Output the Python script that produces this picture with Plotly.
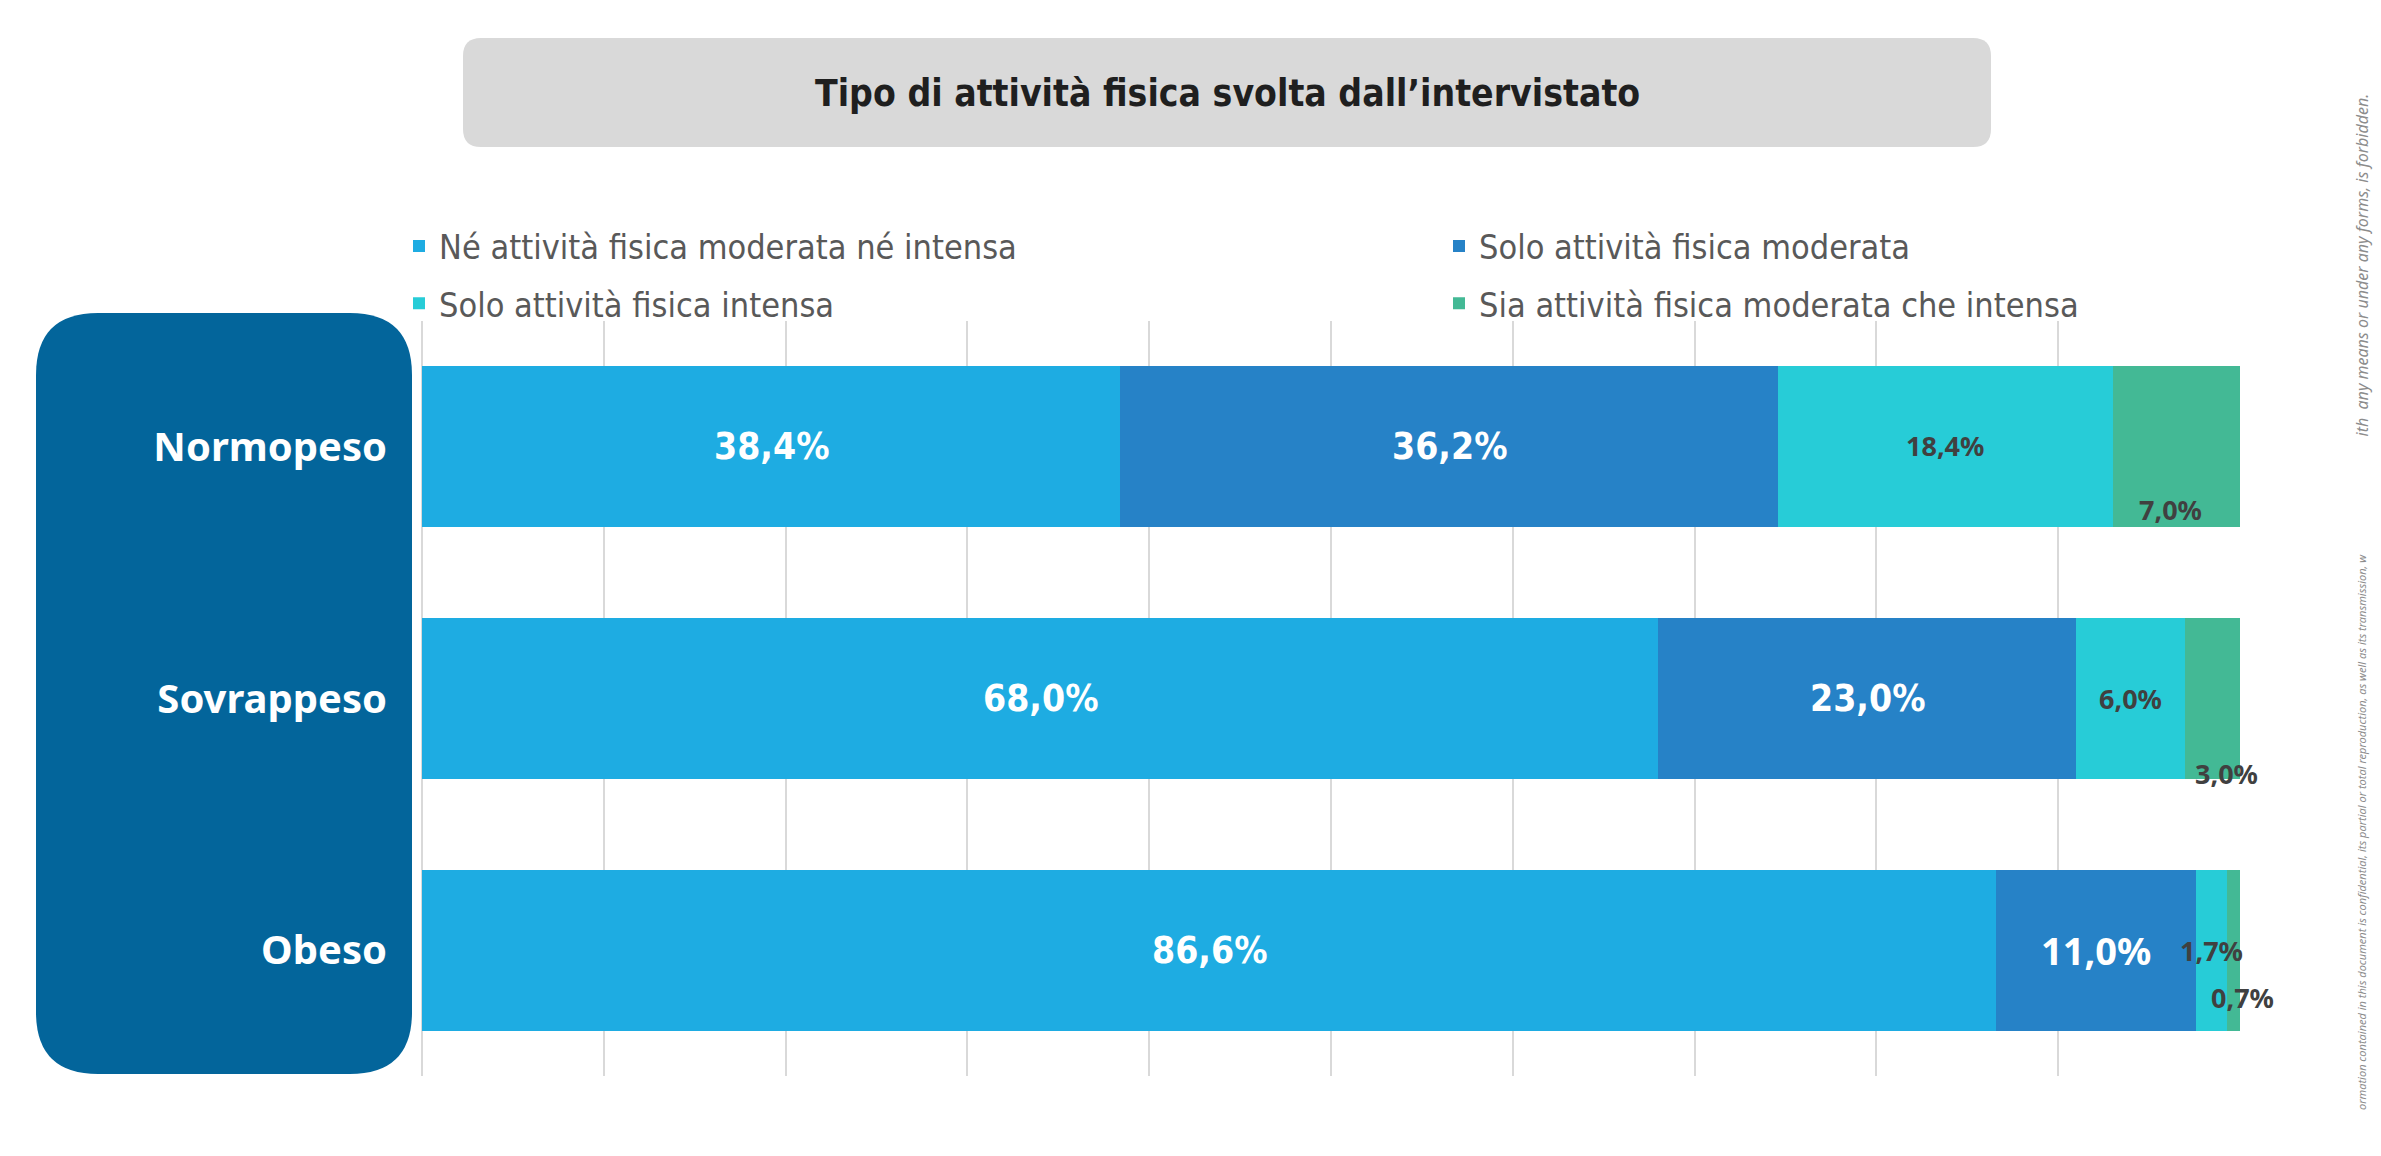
import plotly.graph_objects as go

# ---------------- data ----------------
categories = ["Normopeso", "Sovrappeso", "Obeso"]
series_names = [
    "Né attività fisica moderata né intensa",
    "Solo attività fisica moderata",
    "Solo attività fisica intensa",
    "Sia attività fisica moderata che intensa",
]
neither = [38.4, 68.0, 86.6]
moderate_only = [36.2, 23.0, 11.0]
intense_only = [18.4, 6.0, 1.7]
both = [7.0, 3.0, 0.7]
x_ticks = [0, 10, 20, 30, 40, 50, 60, 70, 80, 90, 100]
title_text = "Tipo di attività fisica svolta dall\u2019intervistato"
watermark_top = "ith\u00a0\u00a0any means or under any forms, is forbidden."
watermark_bottom = ("ormation contained in this document is confidential, its partial or total reproduction, "
                    "as well as its transmission, w")

# ---------------- style ----------------
colors = ["#1EACE2", "#2682C7", "#27CCD7", "#43B995"]
FW, FH = 2381, 1156
L, R, T, B = 422, 141, 321, 80
PW, PH = FW - L - R, FH - T - B

NARROW = "Liberation Sans Narrow, DejaVu Sans Condensed, Arial Narrow, sans-serif"
WIDE = "Noto Sans, DejaVu Sans, sans-serif"


def px(xp):
    return (xp - L) / PW


def py(yp):
    return 1 - (yp - T) / PH


def rounded_path(x0, y0, x1, y1, r):
    p = lambda a, b: f"{px(a):.5f},{py(b):.5f}"
    s = f"M{p(x0 + r, y0)} L{p(x1 - r, y0)} Q{p(x1, y0)} {p(x1, y0 + r)} "
    s += f"L{p(x1, y1 - r)} Q{p(x1, y1)} {p(x1 - r, y1)} "
    s += f"L{p(x0 + r, y1)} Q{p(x0, y1)} {p(x0, y1 - r)} "
    s += f"L{p(x0, y0 + r)} Q{p(x0, y0)} {p(x0 + r, y0)} Z"
    return s


series = [neither, moderate_only, intense_only, both]
legend_for = ["legend", "legend2", "legend", "legend2"]

fig = go.Figure()
for i, (name, vals) in enumerate(zip(series_names, series)):
    fig.add_trace(go.Bar(
        y=categories, x=vals, name=name, orientation="h",
        marker=dict(color=colors[i], line=dict(width=0)),
        legend=legend_for[i], legendgroup=f"g{i}",
        hoverinfo="skip",
    ))

# data labels
offsets = {(3, 0): (-6, -63), (3, 1): (14, -75), (3, 2): (9, -47), (2, 0): (0, 1)}
annotations = []
for ci, cat in enumerate(categories):
    cum = 0.0
    for si, vals in enumerate(series):
        v = vals[ci]
        center = cum + v / 2
        cum += v
        label = f"{v:.1f}".replace(".", ",") + "%"
        if si in (0, 1):
            if si == 1 and ci == 2:
                font = dict(family=WIDE, size=38, color="white", weight="bold")
            else:
                font = dict(family=NARROW, size=37, color="white", weight="bold")
        else:
            font = dict(family=WIDE, size=27, color="#404040", weight="bold")
        dx, dy = offsets.get((si, ci), (0, 0))
        annotations.append(dict(
            x=center, y=cat, xref="x", yref="y", text=label, showarrow=False,
            font=font, xshift=dx, yshift=dy, xanchor="center", yanchor="middle",
        ))

# title
annotations.append(dict(
    x=px(1227), y=py(94), xref="paper", yref="paper", text=title_text, showarrow=False,
    font=dict(family=NARROW, size=37, color="#1F1F1F", weight="bold"),
    xanchor="center", yanchor="middle",
))
# watermark (two pieces, as in the reference)
annotations.append(dict(
    x=px(2361), y=py(92), xref="paper", yref="paper", text=watermark_top, showarrow=False,
    textangle=-90, font=dict(family=WIDE, size=16, color="#8C8C8C", style="italic"),
    xanchor="center", yanchor="top",
))
annotations.append(dict(
    x=px(2361), y=py(552), xref="paper", yref="paper", text=watermark_bottom, showarrow=False,
    textangle=-90, font=dict(family=WIDE, size=11, color="#8C8C8C", style="italic"),
    xanchor="center", yanchor="top",
))

shapes = [
    dict(type="path", xref="paper", yref="paper", path=rounded_path(463, 38, 1991, 147, 18),
         fillcolor="#D9D9D9", line=dict(width=0), layer="below"),
    dict(type="path", xref="paper", yref="paper", path=rounded_path(36, 313, 412, 1074, 62),
         fillcolor="#03659B", line=dict(width=0), layer="below"),
]

legend_common = dict(
    orientation="v", xanchor="left", yanchor="middle", y=py(275),
    font=dict(family=NARROW, size=34, color="#595959"),
    bgcolor="rgba(0,0,0,0)", tracegroupgap=10, itemclick=False, itemdoubleclick=False,
)

fig.update_layout(
    width=FW, height=FH,
    margin=dict(l=L, r=R, t=T, b=B, pad=0),
    paper_bgcolor="white", plot_bgcolor="white",
    barmode="stack", bargap=0.36,
    showlegend=True,
    legend=dict(x=px(399), **legend_common),
    legend2=dict(x=px(1439), **legend_common),
    xaxis=dict(range=[0, 100], tickvals=x_ticks, showticklabels=False, showgrid=True,
               gridcolor="#D9D9D9", gridwidth=2, zeroline=True, zerolinecolor="#D9D9D9",
               zerolinewidth=2, showline=False, fixedrange=True),
    yaxis=dict(categoryorder="array", categoryarray=categories, range=[2.5, -0.5],
               showgrid=False, zeroline=False, showline=False, ticks="",
               ticklabelstandoff=34,
               tickfont=dict(family=WIDE, size=40, color="white", weight="bold"),
               fixedrange=True),
    annotations=annotations,
    shapes=shapes,
)

fig.write_html("out.html", config={"displayModeBar": False},
               post_script="document.body.style.margin='0';")
